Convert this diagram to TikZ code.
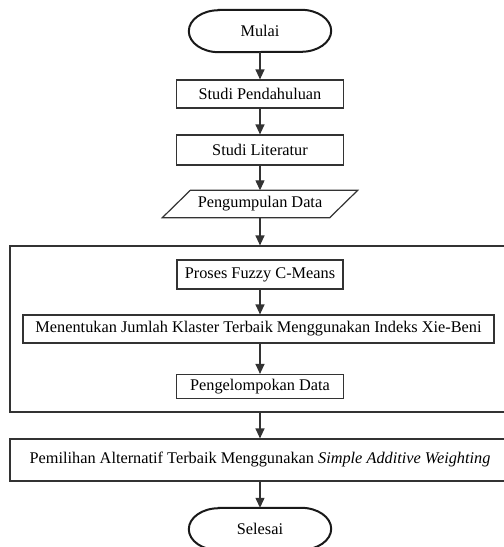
\documentclass[tikz,border=0pt]{standalone}
\usepackage{fontspec}
\setmainfont{Liberation Serif}[Ligatures=TeX]
\usetikzlibrary{arrows.meta}
\begin{document}
\begin{tikzpicture}[x=1pt,y=-1pt,
  font=\rmfamily\fontsize{16.3}{19}\selectfont,
  box/.style={draw=black!80, line width=1.2pt, inner sep=0pt},
  term/.style={inner sep=0pt, minimum width=142pt, minimum height=42pt},
  termline/.style={line width=2pt, draw=black!90},
  arr/.style={draw=black!80, line width=1.2pt, -{Triangle[width=9pt,length=10pt]}},
]
\useasboundingbox (0,0) rectangle (504,547);
\clip (0,0) rectangle (504,547);
% terminals
\node[term] (mulai) at (260,31) {Mulai};
\draw[termline] ([xshift=30pt]mulai.north west) -- ([xshift=-30pt]mulai.north east)
  arc[start angle=90,end angle=-90,x radius=30pt,y radius=21pt]
  -- ([xshift=30pt]mulai.south west)
  arc[start angle=270,end angle=90,x radius=30pt,y radius=21pt] -- cycle;
\node[box, minimum width=167pt, minimum height=28pt] (sp) at (260,94) {Studi Pendahuluan};
\node[box, minimum width=167pt, minimum height=30pt] (sl) at (260,150) {Studi Literatur};
\node[inner sep=0pt, minimum width=167pt, minimum height=27pt] (pd) at (260,204) {Pengumpulan Data};
\draw[line width=1.2pt, draw=black!80] ([xshift=-14pt]pd.south west) -- ([xshift=14pt]pd.north west)
  -- ([xshift=14pt]pd.north east) -- ([xshift=-14pt]pd.south east) -- cycle;
% group
\node[box, minimum width=500pt, minimum height=166pt] (grp) at (260,329) {};
\node[box, minimum width=166pt, minimum height=29pt] (fcm) at (260,274.5) {Proses Fuzzy C-Means};
\node[box, minimum width=471pt, minimum height=28pt] (xb) at (258.5,329) {Menentukan Jumlah Klaster Terbaik Menggunakan Indeks Xie-Beni};
\node[box, minimum width=167pt, minimum height=24pt] (pk) at (260,386.5) {Pengelompokan Data};
\node[box, minimum width=500pt, minimum height=42pt] (saw) at (260,460) {Pemilihan Alternatif Terbaik Menggunakan \textit{Simple Additive Weighting}};
\node[term] (selesai) at (260,529) {Selesai};
\draw[termline] ([xshift=30pt]selesai.north west) -- ([xshift=-30pt]selesai.north east)
  arc[start angle=90,end angle=-90,x radius=30pt,y radius=21pt]
  -- ([xshift=30pt]selesai.south west)
  arc[start angle=270,end angle=90,x radius=30pt,y radius=21pt] -- cycle;
% arrows
\draw[arr] (mulai.south) -- (mulai.south |- sp.north);
\draw[arr] (sp.south) -- (sp.south |- sl.north);
\draw[arr] (sl.south) -- (sl.south |- pd.north);
\draw[arr] (pd.south) -- (pd.south |- grp.north);
\draw[arr] (fcm.south) -- (fcm.south |- xb.north);
\draw[arr] (fcm.south |- xb.south) -- (fcm.south |- pk.north);
\draw[arr] (grp.south) -- (grp.south |- saw.north);
\draw[arr] (saw.south) -- (saw.south |- selesai.north);
\end{tikzpicture}
\end{document}
